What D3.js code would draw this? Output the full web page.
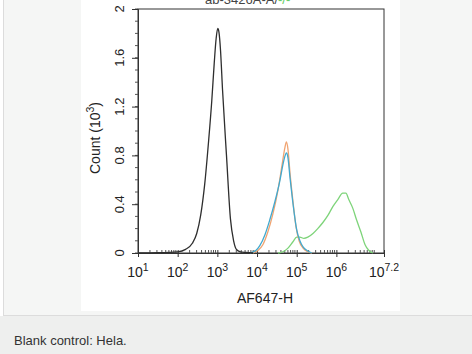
<!DOCTYPE html>
<html>
<head>
<meta charset="utf-8">
<script src="https://cdn.jsdelivr.net/npm/d3@7"></script>
<style>
  body { margin:0; padding:0; background:#fff; }
  svg { display:block; font-family: "Liberation Sans", Arial, sans-serif; }
</style>
</head>
<body>
<svg id="chart"></svg>
<script>
// log10(AF647-H) positions and counts (10^3)
var blankLog   = [1.0,1.5,2.0,2.2,2.37,2.48,2.58,2.68,2.78,2.86,2.92,2.97,3.01,3.04,3.08,3.13,3.23,3.33,3.41,3.48,3.58,3.72,3.9];
var blankCount = [0,0.002,0.01,0.03,0.08,0.16,0.31,0.56,0.92,1.25,1.55,1.76,1.84,1.81,1.66,1.34,0.8,0.28,0.1,0.03,0.01,0.004,0];

var blueLog    = [3.82,3.97,4.07,4.2,4.32,4.45,4.58,4.65,4.71,4.74,4.78,4.83,4.9,5.0,5.08,5.16,5.26,5.38];
var blueCount  = [0,0.02,0.06,0.15,0.27,0.42,0.6,0.72,0.8,0.82,0.78,0.62,0.42,0.19,0.1,0.05,0.02,0];

var orangeLog   = [3.9,4.02,4.15,4.27,4.4,4.53,4.63,4.7,4.74,4.78,4.83,4.9,4.98,5.06,5.16,5.28,5.38];
var orangeCount = [0,0.02,0.07,0.17,0.32,0.52,0.72,0.86,0.91,0.85,0.66,0.44,0.22,0.1,0.04,0.01,0];

var greenLog   = [4.53,4.65,4.78,4.9,5.0,5.08,5.18,5.28,5.41,5.53,5.66,5.79,5.91,6.04,6.16,6.24,6.31,6.41,6.51,6.62,6.72,6.82,6.92];
var greenCount = [0,0.01,0.04,0.09,0.13,0.13,0.12,0.13,0.16,0.2,0.25,0.31,0.38,0.44,0.49,0.49,0.44,0.37,0.27,0.17,0.07,0.02,0];

var xTickExp = ["1","2","3","4","5","6","7.2"];
var yTicks = [0,0.4,0.8,1.2,1.6,2];

var svg = d3.select("#chart").attr("width",472).attr("height",354);

// page panels
svg.append("rect").attr("x",0).attr("y",0).attr("width",472).attr("height",354).attr("fill","#fff");
svg.append("rect").attr("x",3.5).attr("y",-1).attr("width",470).attr("height",316.5)
   .attr("fill","#f5f6f5").attr("stroke","#dcdcdc");
svg.append("rect").attr("x",0).attr("y",316).attr("width",472).attr("height",38).attr("fill","#eeefee");
svg.append("rect").attr("x",81).attr("y",0).attr("width",319).attr("height",311).attr("fill","#fff");

svg.append("text").attr("x",14).attr("y",345).attr("font-size",13).attr("fill","#333")
   .text("Blank control: Hela.");

var margins = {left:138, top:9, right:384, bottom:253};
var xScale = d3.scaleLinear().domain([1,7.2]).range([margins.left,margins.right]);
var yScale = d3.scaleLinear().domain([0,2]).range([margins.bottom,margins.top]);

// title, cut off at the top edge as in the source image
var title = svg.append("text").attr("x",205).attr("y",4).attr("font-size",13).attr("fill","#444");
title.append("tspan").text("ab-3426A-A/");
title.append("tspan").attr("fill","#6c6").text("-/-");

// frame
svg.append("rect").attr("x",margins.left).attr("y",margins.top)
   .attr("width",margins.right-margins.left).attr("height",margins.bottom-margins.top)
   .attr("fill","none").attr("stroke","#333").attr("stroke-width",1);

// x axis minor ticks (log decades)
var minor = [];
for (var d = 1; d < 7.2; d++) {
  for (var m = 2; m <= 9; m++) {
    var v = d + Math.log10(m);
    if (v < 7.2) minor.push(v);
  }
}
var xAxisMajor = d3.axisBottom(xScale).tickValues(xTickExp.map(Number)).tickSize(4).tickFormat("");
var xg = svg.append("g").attr("transform","translate(0,"+margins.bottom+")").call(xAxisMajor);
xg.select(".domain").attr("stroke","#333");
xg.selectAll(".tick line").attr("stroke","#333").attr("y1",-3);
svg.append("g").selectAll("line").data(minor).enter().append("line")
   .attr("x1",function(d){return xScale(d);}).attr("x2",function(d){return xScale(d);})
   .attr("y1",margins.bottom-3).attr("y2",margins.bottom).attr("stroke","#555");

var xl = svg.append("g").selectAll("text").data(xTickExp).enter().append("text")
   .attr("x",function(d){return xScale(+d);}).attr("y",277)
   .attr("text-anchor","middle").attr("font-size",14).attr("fill","#222");
xl.append("tspan").text("10");
xl.append("tspan").attr("dy",-6).attr("font-size",10.5).text(function(d){return d;});

svg.append("text").attr("x",265).attr("y",303).attr("text-anchor","middle")
   .attr("font-size",14).attr("fill","#222").text("AF647-H");

// y axis
var yMinor = d3.range(0,2.001,0.1);
svg.append("g").selectAll("line").data(yMinor).enter().append("line")
   .attr("x1",margins.left-3).attr("x2",margins.left)
   .attr("y1",function(d){return yScale(d);}).attr("y2",function(d){return yScale(d);})
   .attr("stroke","#555");
var yAxis = d3.axisLeft(yScale).tickValues(yTicks).tickSize(6).tickFormat("");
var yg = svg.append("g").attr("transform","translate("+margins.left+",0)").call(yAxis);
yg.select(".domain").attr("stroke","#333");
yg.selectAll(".tick line").attr("stroke","#333").attr("x2",-6);

svg.append("g").selectAll("text").data(yTicks).enter().append("text")
   .attr("transform",function(d){return "translate(124,"+yScale(d)+") rotate(-90)";})
   .attr("text-anchor","middle").attr("font-size",13).attr("fill","#222")
   .text(function(d){return d;});

var yt = svg.append("text").attr("transform","translate(100,138) rotate(-90)")
   .attr("text-anchor","middle").attr("font-size",14).attr("fill","#222");
yt.append("tspan").text("Count (10");
yt.append("tspan").attr("dy",-6).attr("font-size",10.5).text("3");
yt.append("tspan").attr("dy",6).text(")");

// histograms
var line = d3.line()
  .x(function(d){return xScale(d[0]);})
  .y(function(d){return yScale(d[1]);})
  .curve(d3.curveMonotoneX);

var series = [
  {name:"green", log:greenLog, count:greenCount, color:"#7ed47a"},
  {name:"orange", log:orangeLog, count:orangeCount, color:"#f0a472"},
  {name:"blue", log:blueLog, count:blueCount, color:"#42a9cf"},
  {name:"blank", log:blankLog, count:blankCount, color:"#2e2e2e"}
];
svg.append("g").selectAll("path").data(series).enter().append("path")
   .attr("d",function(s){return line(s.log.map(function(v,i){return [v,s.count[i]];}));})
   .attr("fill","none")
   .attr("stroke",function(s){return s.color;})
   .attr("stroke-width",1.3);
</script>
</body>
</html>
